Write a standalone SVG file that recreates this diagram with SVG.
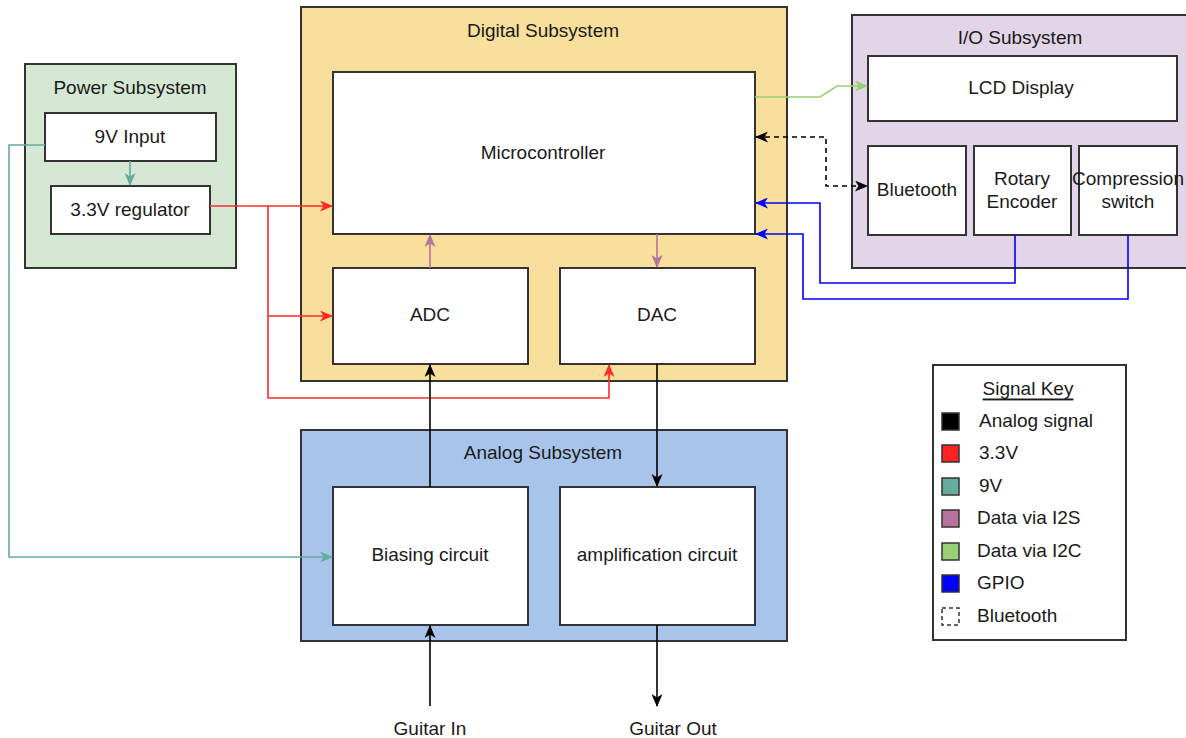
<svg xmlns="http://www.w3.org/2000/svg" width="1186" height="738" viewBox="0 0 1186 738">
<style>
text{font-family:"Liberation Sans",Arial,sans-serif;font-size:19px;fill:#1a1a1a;text-anchor:middle;dominant-baseline:central}
.box{fill:#fff;stroke:#333;stroke-width:2}
.grp{stroke:#333;stroke-width:2}
.c{fill:none;stroke-width:1.6}
.lt{text-anchor:start}
.sw{stroke:#333;stroke-width:1.5}
</style>
<defs>
<marker id="aK" viewBox="0 0 13 11" refX="12" refY="5.5" markerWidth="13" markerHeight="11" markerUnits="userSpaceOnUse" orient="auto-start-reverse"><path d="M0,0 L13,5.5 L0,11 L3.5,5.5 z" fill="#000"/></marker>
<marker id="aR" viewBox="0 0 13 11" refX="12" refY="5.5" markerWidth="13" markerHeight="11" markerUnits="userSpaceOnUse" orient="auto"><path d="M0,0 L13,5.5 L0,11 L3.5,5.5 z" fill="#ff2a2a"/></marker>
<marker id="aT" viewBox="0 0 13 11" refX="12" refY="5.5" markerWidth="13" markerHeight="11" markerUnits="userSpaceOnUse" orient="auto"><path d="M0,0 L13,5.5 L0,11 L3.5,5.5 z" fill="#67ab9f"/></marker>
<marker id="aP" viewBox="0 0 13 11" refX="12" refY="5.5" markerWidth="13" markerHeight="11" markerUnits="userSpaceOnUse" orient="auto"><path d="M0,0 L13,5.5 L0,11 L3.5,5.5 z" fill="#b5739d"/></marker>
<marker id="aG" viewBox="0 0 13 11" refX="12" refY="5.5" markerWidth="13" markerHeight="11" markerUnits="userSpaceOnUse" orient="auto"><path d="M0,0 L13,5.5 L0,11 L3.5,5.5 z" fill="#97d077"/></marker>
<marker id="aB" viewBox="0 0 13 11" refX="12" refY="5.5" markerWidth="13" markerHeight="11" markerUnits="userSpaceOnUse" orient="auto"><path d="M0,0 L13,5.5 L0,11 L3.5,5.5 z" fill="#0000ff"/></marker>
</defs>

<g id="power-subsystem">
<rect class="grp" x="25" y="64" width="211" height="204" fill="#d5e8d4"/>
<text x="130" y="87">Power Subsystem</text>
</g>
<g id="digital-subsystem">
<rect class="grp" x="301" y="7" width="486" height="374" fill="#f8df9b"/>
<text x="543" y="30">Digital Subsystem</text>
</g>
<g id="io-subsystem">
<rect class="grp" x="852" y="15" width="340" height="253" fill="#e1d5e7"/>
<text x="1020" y="37">I/O Subsystem</text>
</g>
<g id="analog-subsystem">
<rect class="grp" x="301" y="430" width="486" height="211" fill="#a9c4eb"/>
<text x="543" y="452">Analog Subsystem</text>
</g>

<g id="n-9v-input"><rect class="box" x="45" y="113" width="171" height="48"/><text x="130" y="136">9V Input</text></g>
<g id="n-regulator"><rect class="box" x="51" y="186" width="159" height="48"/><text x="130" y="209">3.3V regulator</text></g>
<g id="n-mcu"><rect class="box" x="333" y="72" width="422" height="162"/><text x="543" y="152">Microcontroller</text></g>
<g id="n-adc"><rect class="box" x="333" y="268" width="195" height="96"/><text x="430" y="314">ADC</text></g>
<g id="n-dac"><rect class="box" x="560" y="268" width="195" height="96"/><text x="657" y="314">DAC</text></g>
<g id="n-lcd"><rect class="box" x="868" y="56" width="309" height="65"/><text x="1021" y="87">LCD Display</text></g>
<g id="n-bluetooth"><rect class="box" x="868" y="146" width="98" height="89"/><text x="917" y="189">Bluetooth</text></g>
<g id="n-rotary"><rect class="box" x="974" y="146" width="97" height="89"/><text x="1022" y="178">Rotary</text><text x="1022" y="201">Encoder</text></g>
<g id="n-compression"><rect class="box" x="1079" y="146" width="98" height="89"/><text x="1128" y="178">Compression</text><text x="1128" y="201">switch</text></g>
<g id="n-biasing"><rect class="box" x="333" y="487" width="195" height="138"/><text x="430" y="554">Biasing circuit</text></g>
<g id="n-amp"><rect class="box" x="560" y="487" width="195" height="138"/><text x="657" y="554">amplification circuit</text></g>
<g id="n-guitar-in"><text x="430" y="728">Guitar In</text></g>
<g id="n-guitar-out"><text x="673" y="728">Guitar Out</text></g>

<g id="connectors">
<path class="c" stroke="#67ab9f" d="M130,161 V185" marker-end="url(#aT)"/>
<path class="c" stroke="#67ab9f" d="M45,145 H9 V557 H332" marker-end="url(#aT)"/>
<path class="c" stroke="#ff2a2a" d="M210,206 H332" marker-end="url(#aR)"/>
<path class="c" stroke="#ff2a2a" d="M268,206 V316 H332" marker-end="url(#aR)"/>
<path class="c" stroke="#ff2a2a" d="M268,316 V398 H609 V365" marker-end="url(#aR)"/>
<path class="c" stroke="#b5739d" d="M430,268 V235" marker-end="url(#aP)"/>
<path class="c" stroke="#b5739d" d="M657,234 V267" marker-end="url(#aP)"/>
<path class="c" stroke="#97d077" d="M755,97 H820 L837,86 H867" marker-end="url(#aG)"/>
<path class="c" stroke="#000" stroke-dasharray="5,4" d="M756,137 H826 V186 H867" marker-start="url(#aK)" marker-end="url(#aK)"/>
<path class="c" stroke="#0000ff" d="M1015,235 V283 H820 V203 H756" marker-end="url(#aB)"/>
<path class="c" stroke="#0000ff" d="M1128,235 V299 H803 V234 H756" marker-end="url(#aB)"/>
<path class="c" stroke="#000" d="M430,487 V365" marker-end="url(#aK)"/>
<path class="c" stroke="#000" d="M657,364 V486" marker-end="url(#aK)"/>
<path class="c" stroke="#000" d="M430,706 V626" marker-end="url(#aK)"/>
<path class="c" stroke="#000" d="M657,625 V706" marker-end="url(#aK)"/>
</g>

<g id="signal-key">
<rect x="933" y="365" width="193" height="275" fill="#fff" stroke="#333" stroke-width="2"/>
<text x="1028" y="388" text-decoration="underline">Signal Key</text>
<rect class="sw" x="942" y="413" width="17" height="17" fill="#000"/>
<text class="lt" x="979" y="420">Analog signal</text>
<rect class="sw" x="942" y="445" width="17" height="17" fill="#ff2222"/>
<text class="lt" x="979" y="452">3.3V</text>
<rect class="sw" x="942" y="478" width="17" height="17" fill="#67ab9f"/>
<text class="lt" x="979" y="485">9V</text>
<rect class="sw" x="942" y="510" width="17" height="17" fill="#b5739d"/>
<text class="lt" x="977" y="517">Data via I2S</text>
<rect class="sw" x="942" y="543" width="17" height="17" fill="#97d077"/>
<text class="lt" x="977" y="550">Data via I2C</text>
<rect class="sw" x="942" y="575" width="17" height="17" fill="#0000ff"/>
<text class="lt" x="977" y="582">GPIO</text>
<rect x="942" y="608" width="17" height="17" fill="#fff" stroke="#333" stroke-width="1.5" stroke-dasharray="4,3"/>
<text class="lt" x="977" y="615">Bluetooth</text>
</g>
</svg>
